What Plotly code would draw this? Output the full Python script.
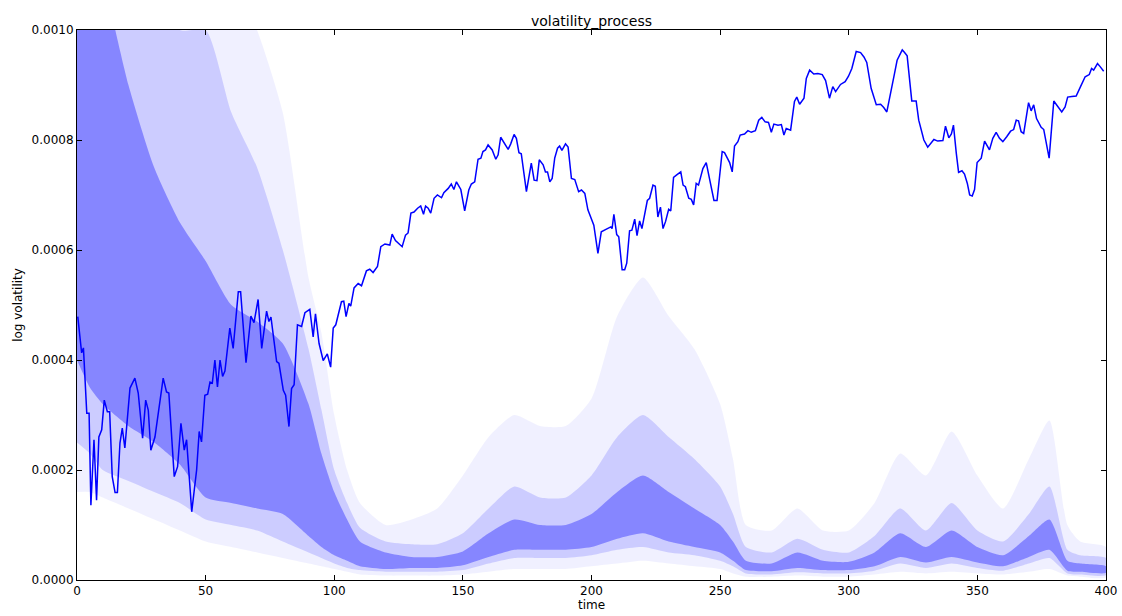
import plotly.graph_objects as go

# ---- solid line ----
line_t = [0.3,1.8,2.5,3.8,4.7,5.4,6.6,7.6,8.5,9.6,10.6,11.8,12.7,13.7,14.8,15.7,16.7,17.6,18.6,20.6,22.5,23.8,25.5,26.7,27.7,28.7,30.3,32.2,33.5,34.8,35.7,37.8,39.1,40.4,41.7,42.6,44.6,46.5,47.5,48.4,49.7,50.8,51.7,52.6,53.6,54.6,55.6,56.6,57.5,59.4,60.7,62.7,63.6,65.7,67.6,68.8,70.4,71.8,73.7,74.6,75.4,77.6,78.5,80.2,81.1,82.4,83.4,84.4,85.7,87.3,88.6,90.5,91.8,92.7,94.1,95.7,97.3,98.6,99.6,100.6,102.8,103.7,104.6,105.7,106.4,107.7,109.3,110.6,112.5,113.8,115.1,116.8,118.1,119.7,121.6,122.5,123.8,126.4,127.7,128.7,129.8,131.0,132.4,133.6,134.7,135.5,136.5,137.5,138.8,140.1,141.7,142.6,144.3,145.5,146.5,147.5,149.2,150.7,152.3,153.3,154.6,155.9,157.0,157.8,158.8,159.8,161.4,162.8,163.7,164.7,166.0,167.6,168.6,169.9,170.8,171.8,172.7,173.8,174.7,176.6,177.7,178.8,179.7,181.2,182.1,182.9,183.8,184.7,185.7,186.8,187.6,188.5,189.9,190.9,192.2,193.5,195.0,196.1,197.4,198.6,199.9,200.9,202.5,203.8,205.8,207.5,208.0,208.7,209.8,210.6,211.9,212.9,213.7,214.8,215.7,216.8,217.7,218.7,219.6,221.7,222.6,223.9,224.8,225.8,226.8,227.8,228.8,230.0,230.8,231.9,233.0,234.7,235.6,236.5,237.8,238.8,239.7,240.7,241.6,243.3,244.6,246.2,247.6,248.8,250.8,251.7,253.7,254.7,255.6,256.9,257.8,259.5,260.8,262.1,263.7,265.0,266.2,267.5,268.8,269.9,270.9,272.5,273.8,274.8,275.7,277.4,278.9,279.8,280.9,282.6,283.5,284.8,286.4,288.0,289.7,291.0,292.5,293.8,294.9,296.8,298.6,299.9,301.2,302.9,304.6,305.9,307.0,308.7,310.7,312.4,313.6,314.8,316.5,317.8,318.8,319.7,320.8,321.7,322.7,324.5,326.2,327.2,329.2,330.7,332.0,333.1,334.6,336.6,337.6,338.9,339.9,340.7,341.8,342.7,344.0,345.0,346.1,347.0,348.0,348.9,349.9,351.5,352.8,353.7,354.7,356.0,357.3,358.6,359.9,361.4,362.9,364.1,365.1,366.0,367.0,368.0,369.9,370.9,371.9,373.0,374.1,374.8,375.8,376.7,377.9,379.7,381.2,382.8,384.1,385.1,386.7,388.4,390.1,391.9,393.5,394.4,395.2,396.7,397.8,399.1]
line_v = [4.79,4.13,4.22,3.03,3.03,1.36,2.55,1.45,2.60,2.73,3.27,3.06,3.06,1.88,1.59,1.59,2.49,2.76,2.40,3.49,3.67,3.40,2.58,3.27,3.09,2.36,2.60,3.22,3.67,3.42,3.40,1.88,2.06,2.85,2.36,2.55,1.24,2.00,2.70,2.51,3.36,3.38,3.60,3.58,4.00,3.51,4.00,3.70,3.80,4.58,4.21,5.24,5.24,3.95,4.80,4.68,5.10,4.21,4.89,4.70,4.78,3.97,3.94,3.45,3.36,2.79,3.48,3.55,4.64,4.61,4.86,4.92,4.42,4.84,4.30,3.99,4.11,3.87,4.58,4.64,5.06,5.07,4.79,5.03,4.98,5.31,5.39,5.35,5.62,5.65,5.59,5.70,6.06,6.11,6.09,6.29,6.17,6.06,6.27,6.31,6.67,6.69,6.76,6.80,6.65,6.80,6.76,6.67,6.94,7.00,6.95,7.04,7.12,7.20,7.10,7.24,7.10,6.71,7.09,7.20,7.24,7.65,7.67,7.79,7.82,7.91,7.82,7.65,7.73,8.05,7.94,7.83,7.93,8.10,8.03,7.77,7.75,7.39,7.06,7.58,7.27,7.26,7.64,7.55,7.42,7.42,7.24,7.30,7.67,7.85,7.89,7.81,7.93,7.87,7.30,7.28,7.06,7.09,7.03,6.73,6.55,6.45,5.94,6.33,6.38,6.42,6.39,6.65,6.28,6.24,5.64,5.64,5.76,6.35,6.36,6.56,6.26,6.53,6.39,6.90,6.94,7.18,7.16,6.60,6.78,6.39,6.52,6.74,6.71,7.32,7.36,7.42,7.18,7.15,6.94,6.92,6.82,7.21,7.18,7.48,7.59,7.24,6.90,6.90,7.79,7.77,7.59,7.42,7.89,7.97,8.09,8.11,8.17,8.14,8.17,8.36,8.41,8.33,8.32,8.14,8.29,8.27,8.28,8.09,8.21,8.18,8.70,8.78,8.65,8.76,9.12,9.27,9.20,9.21,9.19,9.08,8.76,8.97,8.88,9.01,9.06,9.16,9.30,9.61,9.59,9.51,9.41,8.94,8.64,8.65,8.59,8.51,8.88,9.21,9.45,9.53,9.64,9.59,9.53,8.71,8.71,8.36,8.00,7.87,7.94,8.01,7.98,7.99,8.25,8.04,8.11,8.27,7.76,7.41,7.44,7.38,7.21,7.00,6.98,7.10,7.59,7.67,7.98,7.91,7.82,8.03,8.14,8.03,7.97,8.06,8.16,8.19,8.36,8.35,8.15,8.12,8.68,8.53,8.64,8.39,8.30,8.23,8.19,7.97,7.67,8.71,8.62,8.51,8.60,8.78,8.79,8.80,8.97,9.15,9.19,9.30,9.27,9.39,9.33,9.25]

# ---- sample cloud envelopes, units of 1e-4 ----
band_t = [0,5,10,20,30,40,50,60,70,80,90,95,100,105,110,120,130,140,150,160,170,180,190,200,210,220,230,240,250,255,260,270,280,290,300,310,320,330,340,350,360,370,378,385,390,400]
haze_lo = [1.6,1.6,1.5,1.3,1.1,0.9,0.7,0.6,0.5,0.4,0.3,0.25,0.2,0.15,0.1,0.08,0.08,0.08,0.1,0.15,0.2,0.2,0.2,0.25,0.3,0.35,0.3,0.25,0.2,0.12,0.06,0.06,0.08,0.06,0.06,0.1,0.15,0.12,0.15,0.12,0.1,0.15,0.2,0.08,0.06,0.05]
haze_hi = [12,12,12,12,12,12,12,11,10,8.5,5.5,4.5,3.0,2.0,1.4,1.0,1.1,1.3,1.9,2.6,3.0,2.8,2.8,3.3,4.8,5.5,4.8,4.2,3.2,2.2,1.0,0.9,1.3,0.9,0.9,1.4,2.3,1.9,2.7,1.9,1.3,2.2,2.9,1.0,0.7,0.6]
outer_lo = [2.5,2.3,2.0,1.8,1.6,1.4,1.1,1.0,0.9,0.7,0.5,0.4,0.3,0.22,0.18,0.15,0.15,0.15,0.18,0.3,0.4,0.4,0.4,0.45,0.55,0.6,0.5,0.45,0.35,0.25,0.12,0.1,0.14,0.12,0.12,0.17,0.3,0.22,0.3,0.22,0.17,0.3,0.4,0.12,0.1,0.09]
outer_hi = [12,12,12,12,11,10,10,8.5,7.5,6.0,4.2,3.1,2.0,1.4,0.95,0.7,0.65,0.65,0.85,1.3,1.7,1.5,1.5,1.9,2.6,3.0,2.6,2.2,1.7,1.2,0.6,0.5,0.75,0.55,0.5,0.8,1.3,0.9,1.4,0.9,0.7,1.2,1.7,0.55,0.45,0.4]
inner_lo = [4.0,3.5,3.2,2.8,2.5,2.1,1.5,1.4,1.3,1.2,0.8,0.6,0.45,0.35,0.25,0.2,0.22,0.22,0.27,0.42,0.55,0.55,0.55,0.6,0.75,0.85,0.7,0.6,0.5,0.35,0.18,0.16,0.22,0.18,0.18,0.25,0.42,0.32,0.42,0.32,0.25,0.42,0.55,0.17,0.15,0.13]
inner_hi = [12,12,11,9,7.5,6.5,5.8,5.0,4.7,4.3,3.2,2.3,1.6,1.1,0.7,0.5,0.42,0.42,0.52,0.85,1.1,1.0,1.0,1.2,1.6,1.9,1.6,1.3,1.0,0.7,0.35,0.3,0.5,0.35,0.33,0.5,0.85,0.6,0.9,0.6,0.45,0.8,1.1,0.35,0.3,0.25]

x_ticks = [0, 50, 100, 150, 200, 250, 300, 350, 400]
y_ticks = [0.0, 0.0002, 0.0004, 0.0006, 0.0008, 0.0010]
y_tick_labels = ["0.0000", "0.0002", "0.0004", "0.0006", "0.0008", "0.0010"]

SCALE = 1e-4
fig = go.Figure()

def band(lo, hi, alpha):
    xs = band_t + band_t[::-1]
    ys = [v * SCALE for v in hi] + [v * SCALE for v in lo[::-1]]
    fig.add_trace(go.Scatter(x=xs, y=ys, fill="toself", mode="lines",
                             line=dict(width=0, shape="spline", smoothing=0.6),
                             fillcolor=f"rgba(0,0,255,{alpha})",
                             hoverinfo="skip", showlegend=False))

band(haze_lo, haze_hi, 0.06)
band(outer_lo, outer_hi, 0.15)
band(inner_lo, inner_hi, 0.34)

fig.add_trace(go.Scatter(x=line_t, y=[v * SCALE for v in line_v], mode="lines",
                         line=dict(color="#0000ff", width=1.5),
                         showlegend=False))

axis_common = dict(showline=True, linecolor="black", linewidth=1, mirror="ticks",
                   ticks="inside", ticklen=5, tickcolor="black", showgrid=False,
                   zeroline=False, tickfont=dict(family="DejaVu Sans", size=12, color="black"))

fig.update_layout(
    width=1122, height=616,
    paper_bgcolor="white", plot_bgcolor="white",
    margin=dict(l=77, r=16, t=30, b=36),
    font=dict(family="DejaVu Sans", color="black"),
    title=dict(text="volatility_process", x=0.5, xref="paper", xanchor="center",
               y=1.0, yref="paper", yanchor="bottom", pad=dict(b=4),
               font=dict(size=14, family="DejaVu Sans", color="black")),
    xaxis=dict(range=[0, 400], tickvals=x_ticks, title=dict(text="time", standoff=0,
               font=dict(size=12)), **axis_common),
    yaxis=dict(range=[0, 0.001], tickvals=y_ticks, ticktext=y_tick_labels,
               title=dict(text="log volatility", standoff=6, font=dict(size=12)),
               **axis_common),
)
fig.update_xaxes(automargin=False)
fig.update_yaxes(automargin=False)

fig.write_html("out.html", config={"displayModeBar": False},
               post_script="document.body.style.margin='0';document.body.style.overflow='hidden';")
